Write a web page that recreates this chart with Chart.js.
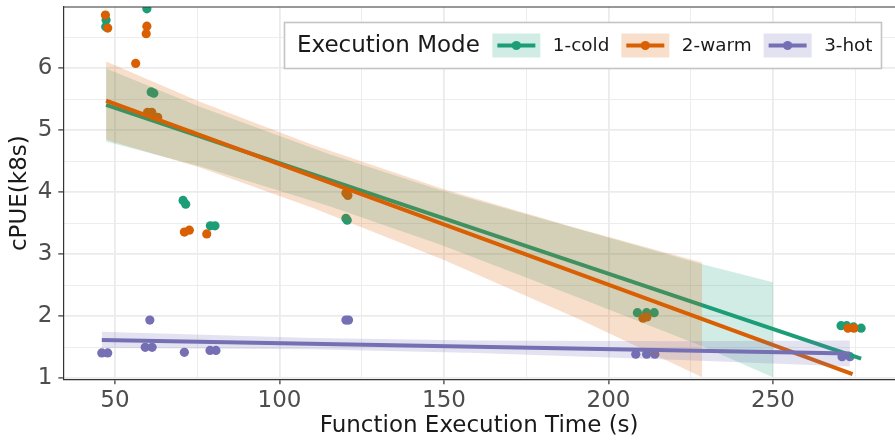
<!DOCTYPE html>
<html>
<head>
<meta charset="utf-8">
<script src="https://cdn.jsdelivr.net/npm/chart.js@4.4.0/dist/chart.umd.min.js"></script>
<style>
  html, body { margin: 0; padding: 0; background: #fff; }
  #wrap { width: 895px; height: 440px; }
</style>
</head>
<body>
<div id="wrap"><canvas id="graph1" width="895" height="440"></canvas></div>
<script>
// raw points
const coldX = [47.3, 47.2, 59.7, 61.0, 61.8, 70.7, 71.5, 79.0, 80.4, 120.2, 120.6, 208.8, 211.6, 213.9, 270.7, 272.4, 274.5, 276.8];
const coldY = [6.78, 6.67, 6.96, 5.62, 5.60, 3.87, 3.81, 3.46, 3.46, 3.58, 3.55, 2.06, 2.06, 2.06, 1.85, 1.85, 1.83, 1.81];
const warmX = [47.1, 47.8, 59.7, 59.5, 56.3, 59.9, 61.2, 63.0, 71.1, 72.6, 77.9, 120.2, 120.8, 210.5, 211.7, 272.8, 274.6];
const warmY = [6.86, 6.65, 6.68, 6.56, 6.08, 5.29, 5.29, 5.21, 3.36, 3.39, 3.33, 3.99, 3.95, 1.97, 1.99, 1.81, 1.81];
const hotX = [46.0, 47.8, 60.6, 59.2, 61.3, 71.1, 78.9, 80.7, 120.2, 121.0, 208.3, 211.6, 214.1, 271.0, 273.4];
const hotY = [1.41, 1.41, 1.94, 1.50, 1.50, 1.42, 1.45, 1.45, 1.94, 1.94, 1.39, 1.39, 1.39, 1.35, 1.35];

// fitted lines (lm)
const coldFitX = [47.3, 276.8];
const coldFitY = [5.41, 1.32];
const warmFitX = [47.3, 274.2];
const warmFitY = [5.48, 1.07];
const hotFitX = [46.0, 273.4];
const hotFitY = [1.62, 1.40];

// confidence bands
const coldBandX = [47.3, 75.8, 115, 148.8, 190, 228.5, 250];
const coldBandHi = [6.00, 5.38, 4.62, 4.04, 3.42, 2.84, 2.55];
const coldBandLo = [4.82, 4.42, 3.78, 3.16, 2.32, 1.52, 1.02];
const warmBandX = [47.3, 75.8, 110, 150, 191.3, 228.5];
const warmBandHi = [6.11, 5.46, 4.77, 4.05, 3.41, 2.87];
const warmBandLo = [4.85, 4.40, 3.75, 2.91, 1.95, 1.02];
const hotBandX = [46.0, 110, 160, 220, 273.4];
const hotBandHi = [1.75, 1.65, 1.61, 1.60, 1.61];
const hotBandLo = [1.49, 1.47, 1.41, 1.30, 1.19];

const modes = ['1-cold', '2-warm', '3-hot'];
const colors = ['#1B9E77', '#D95F02', '#7570B3'];
const bandColors = ['rgba(27,158,119,0.2)', 'rgba(217,95,2,0.2)', 'rgba(117,112,179,0.2)'];

const xTickLabels = [50, 100, 150, 200, 250];
const xGrid = [50, 75, 100, 125, 150, 175, 200, 225, 250, 275];
const yTickLabels = [1, 2, 3, 4, 5, 6];
const yGrid = [1, 1.5, 2, 2.5, 3, 3.5, 4, 4.5, 5, 5.5, 6, 6.5];

const pts = (xs, ys) => xs.map((x, i) => ({ x: x, y: ys[i] }));
const FONT = "'DejaVu Sans'";

const pointSet = (i, xs, ys, ord) => ({
  label: modes[i], data: pts(xs, ys), type: 'scatter',
  backgroundColor: colors[i], borderWidth: 0, pointRadius: 4.6, order: ord
});
const lineSet = (i, xs, ys, ord) => ({
  data: pts(xs, ys), type: 'line', borderColor: colors[i], borderWidth: 4,
  pointRadius: 0, fill: false, order: ord
});
const bandHi = (i, xs, ys, target, ord) => ({
  data: pts(xs, ys), type: 'line', borderWidth: 0, borderColor: 'rgba(0,0,0,0)',
  backgroundColor: bandColors[i], pointRadius: 0, fill: { target: target }, order: ord
});
const bandLo = (xs, ys) => ({
  data: pts(xs, ys), type: 'line', borderWidth: 0, borderColor: 'rgba(0,0,0,0)',
  pointRadius: 0, fill: false, order: 20
});

const datasets = [
  pointSet(0, coldX, coldY, 12),            // 0
  pointSet(1, warmX, warmY, 11),            // 1
  pointSet(2, hotX, hotY, 10),              // 2
  bandHi(0, coldBandX, coldBandHi, 4, 6),   // 3
  bandLo(coldBandX, coldBandLo),            // 4
  lineSet(0, coldFitX, coldFitY, 5),        // 5
  bandHi(1, warmBandX, warmBandHi, 7, 4),   // 6
  bandLo(warmBandX, warmBandLo),            // 7
  lineSet(1, warmFitX, warmFitY, 3),        // 8
  bandHi(2, hotBandX, hotBandHi, 10, 2),    // 9
  bandLo(hotBandX, hotBandLo),              // 10
  lineSet(2, hotFitX, hotFitY, 1)           // 11
];

// ggplot-like legend box + top border
const legendBox = {
  id: 'legendBox',
  afterDraw(chart) {
    const c = chart.ctx, a = chart.chartArea;
    c.save();
    c.strokeStyle = '#333333';
    c.lineWidth = 1.2;
    c.beginPath();
    c.moveTo(a.left, a.top);
    c.lineTo(a.right, a.top);
    c.stroke();

    const x0 = 284.5, y0 = 22.5, w = 597, h = 46, mid = y0 + h / 2;
    c.fillStyle = '#ffffff';
    c.fillRect(x0, y0, w, h);
    c.strokeStyle = '#c4c4c4';
    c.lineWidth = 1.6;
    c.strokeRect(x0, y0, w, h);

    c.textBaseline = 'middle';
    c.fillStyle = '#1a1a1a';
    c.font = '23px ' + FONT;
    let x = 297;
    c.fillText('Execution Mode', x, mid + 1);
    x += c.measureText('Execution Mode').width + 12.5;
    c.font = '18.4px ' + FONT;
    modes.forEach((m, i) => {
      c.fillStyle = bandColors[i];
      c.fillRect(x, mid - 12, 48, 24);
      c.strokeStyle = colors[i];
      c.lineWidth = 4;
      c.beginPath();
      c.moveTo(x + 5, mid);
      c.lineTo(x + 43, mid);
      c.stroke();
      c.fillStyle = colors[i];
      c.beginPath();
      c.arc(x + 24, mid, 4.6, 0, Math.PI * 2);
      c.fill();
      x += 48 + 12.5;
      c.fillStyle = '#1a1a1a';
      c.fillText(m, x, mid + 1);
      x += c.measureText(m).width + 12;
    });
    c.restore();
  }
};

const isMajor = (list, v) => list.some(t => Math.abs(t - v) < 1e-6);

const chartConfig = {
  type: 'scatter',
  data: { datasets: datasets },
  plugins: [legendBox],
  options: {
    responsive: false,
    animation: false,
    devicePixelRatio: 1,
    layout: { autoPadding: false, padding: { top: 7, right: 0, left: 0, bottom: 0 } },
    plugins: { legend: { display: false }, tooltip: { enabled: false } },
    scales: {
      x: {
        type: 'linear', min: 34.3, max: 287.1,
        afterBuildTicks: s => { s.ticks = xGrid.map(v => ({ value: v })); },
        afterFit: s => { s.height = 60.7; s.paddingLeft = 0; s.paddingRight = 0; },
        ticks: {
          autoSkip: false, maxRotation: 0, padding: 3, color: '#4d4d4d',
          font: { family: FONT, size: 23 },
          callback: v => isMajor(xTickLabels, v) ? String(v) : ''
        },
        grid: {
          color: '#ebebeb', tickLength: 5,
          lineWidth: ctx => isMajor(xTickLabels, ctx.tick.value) ? 1.8 : 0.9,
          tickColor: ctx => isMajor(xTickLabels, ctx.tick.value) ? '#333333' : 'rgba(0,0,0,0)',
          tickWidth: 1.2
        },
        border: { display: true, color: '#333333', width: 1.2 },
        title: {
          display: true, text: 'Function Execution Time (s)', color: '#1a1a1a',
          font: { family: FONT, size: 23 }, padding: { top: 0, bottom: 0 }
        }
      },
      y: {
        type: 'linear', min: 0.985, max: 6.99,
        afterBuildTicks: s => { s.ticks = yGrid.map(v => ({ value: v })); },
        afterFit: s => { s.width = 63.3; s.paddingTop = 0; s.paddingBottom = 0; },
        ticks: {
          autoSkip: false, padding: 6, color: '#4d4d4d',
          font: { family: FONT, size: 23 },
          callback: v => isMajor(yTickLabels, v) ? String(v) : ''
        },
        grid: {
          color: '#ebebeb', tickLength: 5,
          lineWidth: ctx => isMajor(yTickLabels, ctx.tick.value) ? 1.8 : 0.9,
          tickColor: ctx => isMajor(yTickLabels, ctx.tick.value) ? '#333333' : 'rgba(0,0,0,0)',
          tickWidth: 1.2
        },
        border: { display: true, color: '#333333', width: 1.2 },
        title: {
          display: true, text: 'cPUE(k8s)', color: '#1a1a1a',
          font: { family: FONT, size: 23 }, padding: { top: 6, bottom: 0 }
        }
      }
    }
  }
};

const graph1 = new Chart(document.getElementById('graph1'), chartConfig);
</script>
</body>
</html>
